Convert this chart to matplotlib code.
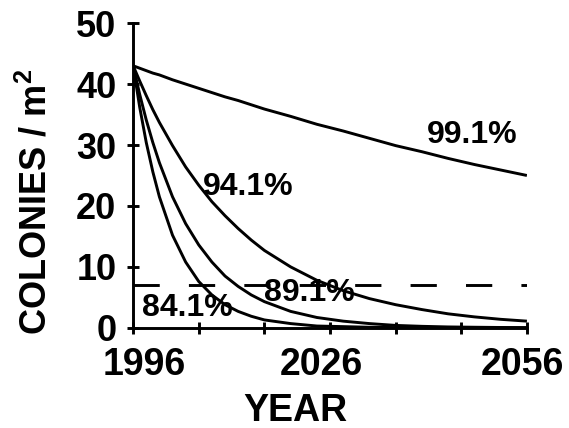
import matplotlib
matplotlib.use("Agg")
import matplotlib.pyplot as plt
from matplotlib.transforms import ScaledTranslation

years = [1996, 1997, 1998, 1999, 2000, 2002, 2004, 2006, 2008, 2010, 2012,
         2014, 2016, 2020, 2024, 2028, 2032, 2036, 2040, 2044, 2048, 2052, 2056]

# colonies / m2 for each annual survival rate
surv_991 = [43.0, 42.6, 42.2, 41.8, 41.5, 40.7, 40.0, 39.3, 38.6, 37.9, 37.3,
            36.6, 35.9, 34.7, 33.4, 32.3, 31.1, 29.9, 28.9, 27.8, 26.8, 25.9, 25.0]
surv_941 = [43.0, 40.5, 38.1, 35.8, 33.7, 29.9, 26.4, 23.4, 20.7, 18.4, 16.3,
            14.4, 12.7, 10.0, 7.8, 6.1, 4.8, 3.8, 3.0, 2.3, 1.8, 1.4, 1.1]
surv_891 = [43.0, 38.3, 34.1, 30.4, 27.1, 21.5, 17.1, 13.6, 10.8, 8.5, 6.8,
            5.4, 4.3, 2.7, 1.7, 1.1, 0.7, 0.4, 0.25, 0.15, 0.1, 0.06, 0.04]
surv_841 = [43.0, 36.2, 30.4, 25.6, 21.5, 15.2, 10.8, 7.6, 5.4, 3.8, 2.7,
            1.9, 1.3, 0.7, 0.3, 0.2, 0.1, 0.05, 0.02, 0.0, 0.0, 0.0, 0.0]

curve_labels = ["99.1%", "94.1%", "89.1%", "84.1%"]
label_x = [2047.6, 2013.6, 2022.8, 2004.2]
label_y = [31.6, 23.1, 5.7, 3.3]

threshold = 7.0
xtick_pos = [1996, 2006, 2016, 2026, 2036, 2046, 2056]
xtick_labels = ["1996", "", "", "2026", "", "", "2056"]
ytick_pos = [0, 10, 20, 30, 40, 50]

plt.rcParams['font.family'] = ['Liberation Sans', 'DejaVu Sans']
plt.rcParams['font.weight'] = 'bold'
plt.rcParams['mathtext.fontset'] = 'custom'
plt.rcParams['mathtext.rm'] = 'Liberation Sans:bold'
plt.rcParams['mathtext.it'] = 'Liberation Sans:bold'
plt.rcParams['mathtext.bf'] = 'Liberation Sans:bold'

fig = plt.figure(figsize=(5.69, 4.28), dpi=100)
ax = fig.add_axes([0.234, 0.234, 0.692, 0.712])

lw = 2.1
for series in [surv_991, surv_941, surv_891, surv_841]:
    ax.plot(years, series, color='black', lw=lw, solid_capstyle='butt')

ax.axhline(threshold, color='black', lw=lw, dashes=(9, 10))

for txt, x, y in zip(curve_labels, label_x, label_y):
    ax.text(x, y, txt, fontsize=23, fontweight='bold', ha='center', va='center')

ax.set_xlim(1996, 2056)
ax.set_ylim(0, 50)
ax.set_xticks(xtick_pos)
ax.set_xticklabels(xtick_labels)
ax.set_yticks(ytick_pos)

for s in ['top', 'right']:
    ax.spines[s].set_visible(False)
for s in ['left', 'bottom']:
    ax.spines[s].set_linewidth(lw)

ax.tick_params(axis='both', direction='inout', length=8, width=lw)
ax.tick_params(axis='y', pad=8, labelsize=26)
ax.tick_params(axis='x', pad=10, labelsize=27)

# the year labels sit a little off their ticks in the original
for lab, dx in zip(ax.get_xticklabels(), [8, 0, 0, -6.5, 0, 0, -3.5]):
    lab.set_transform(lab.get_transform() + ScaledTranslation(dx / 72, 0, fig.dpi_scale_trans))

ax.set_xlabel('YEAR', fontsize=27, fontweight='bold')
ax.set_ylabel('COLONIES / m$^2$', fontsize=26, fontweight='bold')
ax.xaxis.set_label_coords(0.411, -0.215)
ax.yaxis.set_label_coords(-0.2, 0.415)

fig.savefig('out.png', dpi=100)
